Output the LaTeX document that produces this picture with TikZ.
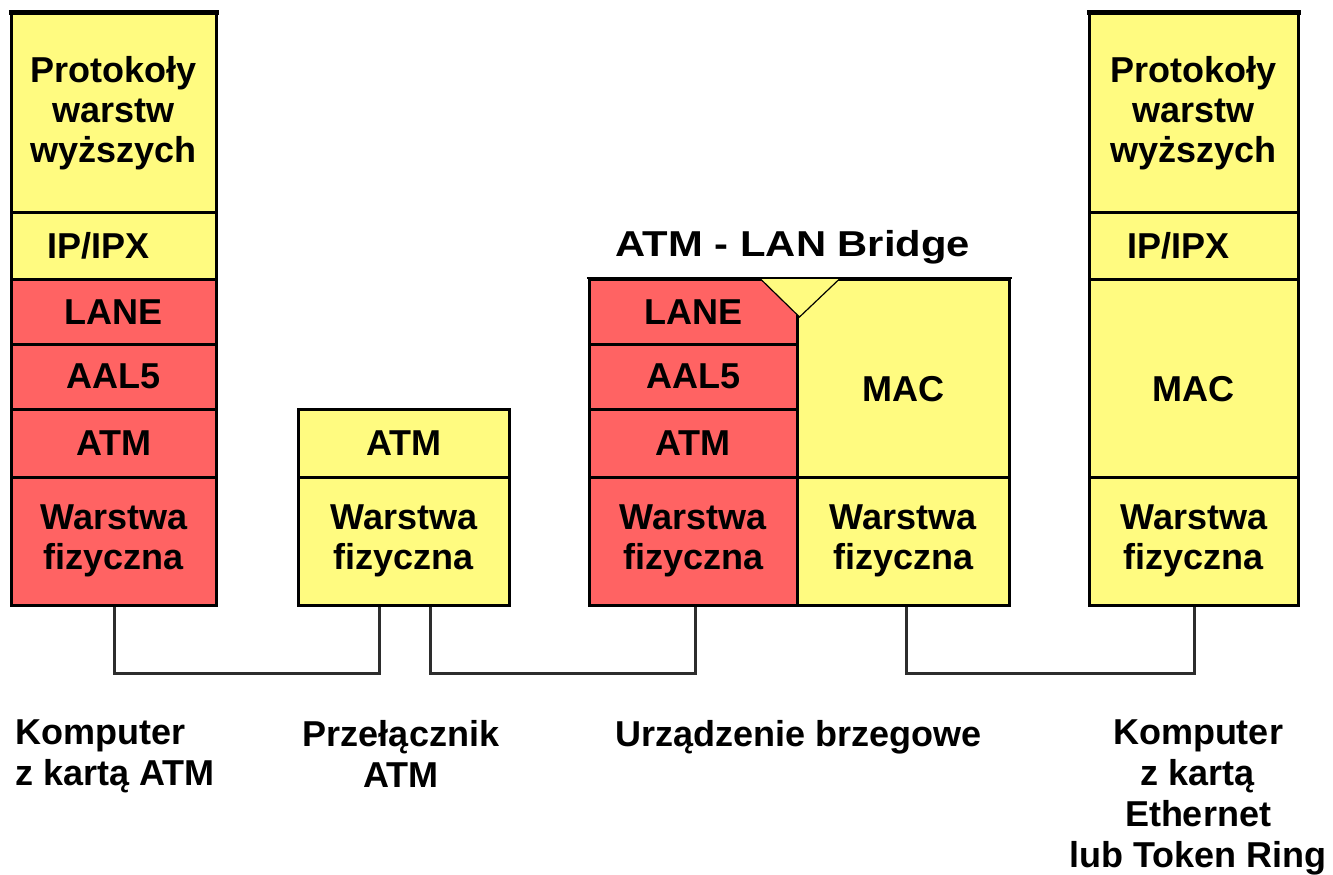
\documentclass[tikz,border=0pt]{standalone}
\usepackage{fontspec}
\setmainfont{Liberation Sans}
\usetikzlibrary{calc}
\definecolor{layerYellow}{RGB}{255,251,128}
\definecolor{layerRed}{RGB}{255,99,99}
\definecolor{wire}{RGB}{45,45,45}

\begin{document}
\begin{tikzpicture}[x=1pt,y=-1pt,
  font=\bfseries\fontsize{36}{40}\selectfont,
  cell/.style={draw=black, line width=2.5pt, anchor=north west, inner sep=0pt,
               align=center, minimum width=#1},
  ycell/.style={cell=#1, fill=layerYellow},
  rcell/.style={cell=#1, fill=layerRed},
  conn/.style={draw=wire, line width=2.5pt},
  topedge/.style={line width=5pt},
  lbl/.style={inner sep=0pt, font=\bfseries\fontsize{36}{41}\selectfont},
  every label/.style={inner sep=0pt}]

\useasboundingbox (0,0) rectangle (1333,875);

% ---- host with an ATM card
\node[ycell=205, minimum height=198.5] (lp) at (10,12.5) {Protokoły\\warstw\\wyższych};
\node[ycell=205, minimum height=67, label={[xshift=-15pt]center:IP/IPX}] (li) at (10,211) {};
\node[rcell=205, minimum height=65] (ll) at (10,278) {LANE};
\node[rcell=205, minimum height=65] (la) at (10,343) {AAL5};
\node[rcell=205, minimum height=68] (lt) at (10,408) {ATM};
\node[rcell=205, minimum height=128] (lw) at (10,476) {Warstwa\\fizyczna};
\draw[topedge] ([xshift=-1.25pt]lp.north west) -- ([xshift=1.25pt]lp.north east);

% ---- ATM switch
\node[ycell=211, minimum height=68] (st) at (297,408) {ATM};
\node[ycell=211, minimum height=128] (sw) at (297,476) {Warstwa\\fizyczna};

% ---- ATM - LAN bridge
\node[rcell=208, minimum height=65] (bl) at (588,278) {LANE};
\node[rcell=208, minimum height=65] (ba) at (588,343) {AAL5};
\node[rcell=208, minimum height=68] (bt) at (588,408) {ATM};
\node[rcell=208, minimum height=128] (bw) at (588,476) {Warstwa\\fizyczna};
\node[ycell=212, minimum height=198, label={[yshift=-11pt]center:MAC}] (bm) at (796,278) {};
\node[ycell=212, minimum height=128] (bp) at (796,476) {Warstwa\\fizyczna};
\fill[layerYellow] ($(bl.north east)+(-39,0)$) -- ($(bl.north east)+(1,39)$)
  -- ($(bl.north east)+(42,0)$) -- cycle;
\draw[line width=1.2pt] ($(bl.north east)+(-39,0)$) -- ($(bl.north east)+(1,39)$)
  -- ($(bl.north east)+(42,0)$);
\draw[line width=2.5pt] ([xshift=-1.25pt]bl.north west) -- ([xshift=1.25pt]bm.north east);
\node[anchor=north, inner sep=0pt] (bt-title) at (793,230) {\scalebox{1.16}[1]{ATM - LAN Bridge}};

% ---- host with an Ethernet / Token Ring card
\node[ycell=209, minimum height=198.5] (rp) at (1088,12.5) {Protokoły\\warstw\\wyższych};
\node[ycell=209, minimum height=67, label={[xshift=-15pt]center:IP/IPX}] (ri) at (1088,211) {};
\node[ycell=209, minimum height=198, label={[yshift=-11pt]center:MAC}] (rm) at (1088,278) {};
\node[ycell=209, minimum height=128] (rw) at (1088,476) {Warstwa\\fizyczna};
\draw[topedge] ([xshift=-1.25pt]rp.north west) -- ([xshift=1.25pt]rp.north east);

% ---- physical links
\draw[conn] ([xshift=0.5pt]lw.south) -- ++(0,67) -| ([xshift=-24.5pt]sw.south);
\draw[conn] ([xshift=26.5pt]sw.south) -- ++(0,67) -| ([xshift=2pt]bw.south);
\draw[conn] ([xshift=3pt]bp.south) -- ++(0,67) -| ([xshift=0.5pt]rw.south);

% ---- device captions
\node[lbl, anchor=north west, align=left] (cap-l) at (15,720) {Komputer\\z kartą ATM};
\node[lbl, anchor=north, align=center] (cap-s) at (401,720) {Przełącznik\\ATM};
\node[lbl, anchor=north west] (cap-b) at (615,720) {Urządzenie brzegowe};
\node[lbl, anchor=north, align=center] (cap-r) at (1198,720) {Komputer\\z kartą\\Ethernet\\lub Token Ring};
\end{tikzpicture}
\end{document}
